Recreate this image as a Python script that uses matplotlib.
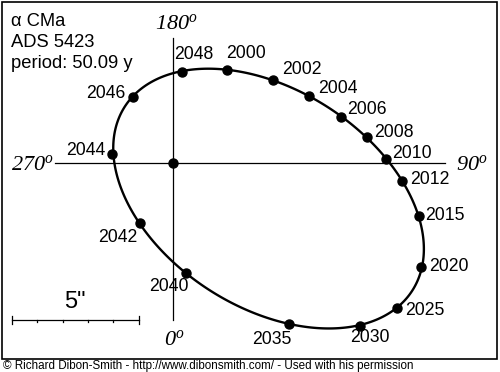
import numpy as np
import matplotlib
matplotlib.use("Agg")
from matplotlib import pyplot as plt
from matplotlib import patches

matplotlib.rcParams['font.family'] = 'Liberation Sans'
matplotlib.rcParams['mathtext.fontset'] = 'custom'
matplotlib.rcParams['mathtext.rm'] = 'Liberation Serif:italic'
matplotlib.rcParams['mathtext.it'] = 'Liberation Serif:italic'

# companion offsets from primary, arcsec (x = east/right, y = up)
years = ["2000", "2002", "2004", "2006", "2008", "2010", "2012", "2015", "2020",
         "2025", "2030", "2035", "2040", "2042", "2044", "2046", "2048"]
dx = [2.13, 3.96, 5.38, 6.62, 7.67, 8.41, 9.03, 9.72, 9.79,
      8.83, 7.38, 4.59, 0.51, -1.30, -2.40, -1.58, 0.34]
dy = [3.67, 3.28, 2.65, 1.83, 1.01, 0.16, -0.70, -2.09, -4.12,
      -5.71, -6.42, -6.36, -4.33, -2.38, 0.36, 2.62, 3.60]
scale_arcsec = 5

# label offsets in pixels
lab_off = [(19, 17), (29, 10), (29, 7), (26, 7), (27, 5), (26, 5), (28, 1), (26, 0), (28, 1),
           (28, -3), (10, -12), (-17, -15), (-17, -14), (-22, -14), (-26, 3), (-27, 3), (12, 17)]

s = 25.33  # px per arcsec
ox, oy = 173, 163  # primary position in image pixels
W, H = 500, 372

fig = plt.figure(figsize=(5, 3.72), dpi=100)
ax = fig.add_axes([0, 0, 1, 1])
ax.set_xlim(-ox / s, (W - ox) / s)
ax.set_ylim((oy - H) / s, oy / s)
ax.axis('off')

x = np.array(dx)
y = np.array(dy)

# orbit: conic fitted through the measured positions
D = np.column_stack([x * x, x * y, y * y, x, y, np.ones_like(x)])
p = np.linalg.svd(D)[2][-1]
gx, gy = np.meshgrid(np.linspace(-4, 12, 600), np.linspace(-8, 5, 600))
F = p[0]*gx*gx + p[1]*gx*gy + p[2]*gy*gy + p[3]*gx + p[4]*gy + p[5]
ax.contour(gx, gy, F, [0], colors='black', linewidths=1.7)

# position angle axes
ax.plot([(55 - ox) / s, (445 - ox) / s], [0, 0], color='black', lw=0.9)
ax.plot([0, 0], [(oy - 38) / s, (oy - 320) / s], color='black', lw=0.9)

ax.plot(x, y, 'o', color='black', ms=6.5)
ax.plot(0, 0, 'o', color='black', ms=6.5)

for yr, xx, yy, off in zip(years, x, y, lab_off):
    ax.annotate(yr, (xx, yy), xytext=off, textcoords='offset pixels',
                ha='center', va='center', fontsize=12.7)

def fpos(px, py):
    return px / W, 1 - py / H

for txt, (px, py) in [(r'$180^{o}$', (176, 24)), (r'$0^{o}$', (174, 340)),
                      (r'$270^{o}$', (32, 164)), (r'$90^{o}$', (472, 164))]:
    fig.text(*fpos(px, py), txt, ha='center', va='center', fontsize=16)

# scale bar
bx0 = (12 - ox) / s
by = (oy - 320) / s
ax.plot([bx0, bx0 + scale_arcsec], [by, by], color='black', lw=0.9)
for k in range(scale_arcsec + 1):
    h = 0.16 if k in (0, scale_arcsec) else 0.07
    top = h if k in (0, scale_arcsec) else 0
    ax.plot([bx0 + k, bx0 + k], [by - h, by + top], color='black', lw=0.9)
ax.text(bx0 + scale_arcsec / 2, by + 0.28, '5"', ha='center', va='bottom', fontsize=17)

fig.text(*fpos(11, 26), "α CMa", ha='left', va='baseline', fontsize=13.2)
fig.text(*fpos(11, 47), "ADS 5423", ha='left', va='baseline', fontsize=13.2)
fig.text(*fpos(11, 68), "period: 50.09 y", ha='left', va='baseline', fontsize=13.2)

fig.patches.append(patches.Rectangle((1.5 / W, 1 - 359 / H), 495.5 / W, 357.5 / H,
                                     transform=fig.transFigure, fill=False,
                                     edgecolor='black', lw=1.2))
fig.text(*fpos(3, 369), "© Richard Dibon-Smith - http://www.dibonsmith.com/ - Used with his permission",
         ha='left', va='baseline', fontsize=8.4)

plt.savefig("out.png", dpi=100)
